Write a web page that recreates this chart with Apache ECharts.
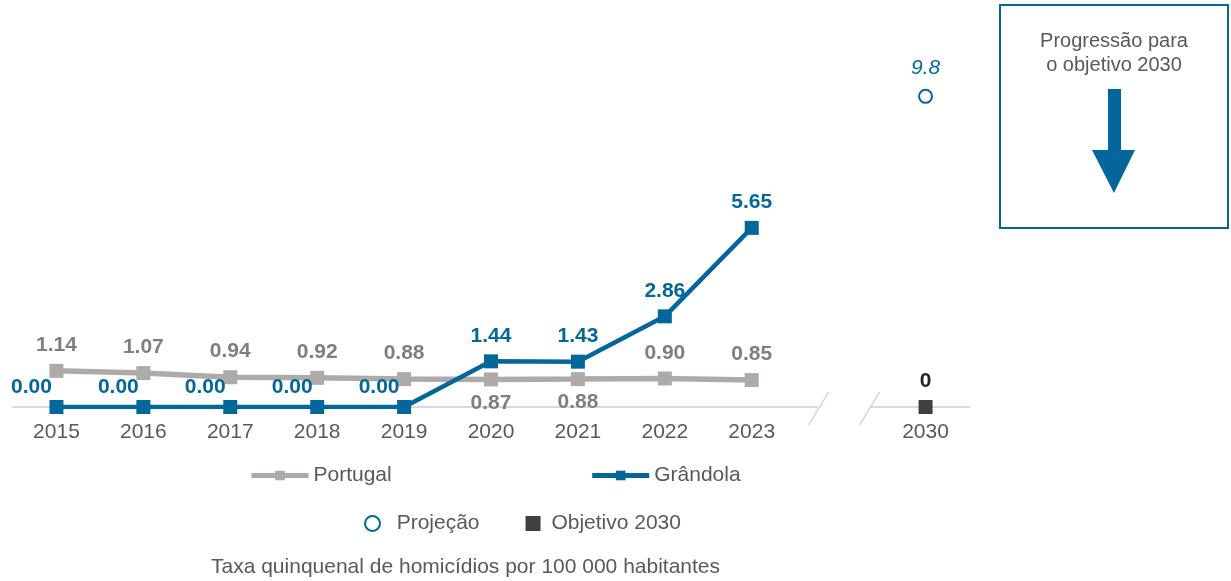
<!DOCTYPE html>
<html>
<head>
<meta charset="utf-8">
<script src="https://cdn.jsdelivr.net/npm/echarts@6/dist/echarts.min.js"></script>
<style>
  html, body { margin: 0; padding: 0; background: #fff; }
  #chart { width: 1231px; height: 581px; }
</style>
</head>
<body>
<div id="chart"></div>
<script>
// dados
var anos = ['2015', '2016', '2017', '2018', '2019', '2020', '2021', '2022', '2023', ' ', '2030'];
var portugal = [1.14, 1.07, 0.94, 0.92, 0.88, 0.87, 0.88, 0.90, 0.85];
var grandola = [0.00, 0.00, 0.00, 0.00, 0.00, 1.44, 1.43, 2.86, 5.65];
var projecao = [['2030', 9.8]];
var objetivo = [['2030', 0]];
var anosRotuloAbaixo = ['2020', '2021']; // rótulos de Portugal por baixo da linha

var azul = '#04679b';
var cinza = '#aeaaaa';
var fonte = '"Liberation Sans", Arial, sans-serif';

var chart = echarts.init(document.getElementById('chart'));

var dadosPortugal = portugal.map(function (v, i) {
    var abaixo = anosRotuloAbaixo.indexOf(anos[i]) >= 0;
    return {
        value: v,
        label: abaixo ? { position: 'bottom', distance: 6 } : undefined
    };
});
var dadosGrandola = grandola.map(function (v) {
    return {
        value: v,
        label: v === 0 ? { offset: [-25, 6] } : undefined
    };
});

var rotulo = {
    show: true,
    position: 'top',
    distance: 8,
    fontWeight: 'bold',
    fontSize: 21,
    fontFamily: fonte
};

var option = {
    animation: false,
    textStyle: { fontFamily: fonte },
    title: {
        text: 'Taxa quinquenal de homicídios por 100 000 habitantes',
        left: 206,
        top: 552,
        textStyle: { fontSize: 21, fontWeight: 'normal', color: '#595959', fontFamily: fonte }
    },
    legend: [
        {
            data: ['Portugal', 'Grândola'],
            left: 249,
            top: 465,
            padding: 0,
            itemWidth: 57,
            itemHeight: 12,
            itemGap: 198,
            lineStyle: { width: 5 },
            textStyle: { fontSize: 21, color: '#595959', fontFamily: fonte }
        },
        {
            data: [
                { name: 'Projeção', icon: 'emptyCircle' },
                { name: 'Objetivo 2030', icon: 'rect' }
            ],
            left: 364,
            top: 513,
            padding: 0,
            itemWidth: 15,
            itemHeight: 15,
            itemGap: 46,
            formatter: function (n) { return n === 'Projeção' ? '  ' + n : ' ' + n; },
            textStyle: { fontSize: 21, color: '#595959', fontFamily: fonte }
        }
    ],
    grid: { left: 13, right: 262, top: 90, bottom: 174 },
    xAxis: {
        type: 'category',
        data: anos,
        boundaryGap: true,
        axisLine: { lineStyle: { color: '#d9d9d9', width: 2 } },
        axisTick: { show: false },
        axisLabel: { fontSize: 21, color: '#595959', margin: 15, fontFamily: fonte, interval: 0 }
    },
    yAxis: {
        type: 'value',
        min: 0,
        max: 10,
        show: false,
        splitLine: { show: false }
    },
    series: [
        {
            name: 'Portugal',
            type: 'line',
            data: dadosPortugal,
            symbol: 'rect',
            symbolSize: 14,
            lineStyle: { color: cinza, width: 5.5 },
            itemStyle: { color: cinza },
            label: Object.assign({}, rotulo, {
                color: '#7f7f7f',
                formatter: function (p) { return p.value.toFixed(2); }
            }),
            z: 2
        },
        {
            name: 'Grândola',
            type: 'line',
            data: dadosGrandola,
            symbol: 'rect',
            symbolSize: 14,
            lineStyle: { color: azul, width: 4.5 },
            itemStyle: { color: azul },
            label: Object.assign({}, rotulo, {
                color: azul,
                formatter: function (p) { return p.value.toFixed(2); }
            }),
            z: 3
        },
        {
            name: 'Projeção',
            type: 'scatter',
            data: projecao,
            symbol: 'emptyCircle',
            symbolSize: 13,
            itemStyle: { color: azul, borderWidth: 2.5, opacity: 1 },
            label: {
                show: true,
                position: 'top',
                distance: 10,
                color: azul,
                fontStyle: 'italic',
                fontSize: 21,
                fontFamily: fonte,
                formatter: function (p) { return String(p.value[1]); }
            }
        },
        {
            name: 'Objetivo 2030',
            type: 'scatter',
            data: objetivo,
            symbol: 'rect',
            symbolSize: 14,
            itemStyle: { color: '#404040', opacity: 1 },
            label: Object.assign({}, rotulo, {
                color: '#262626',
                formatter: function (p) { return String(p.value[1]); }
            }),
            z: 4
        }
    ],
    graphic: [
        {
            type: 'rect',
            shape: { x: 1000, y: 5, width: 228, height: 223 },
            style: { fill: '#fff', stroke: azul, lineWidth: 2 }
        },
        {
            type: 'text',
            x: 1114,
            y: 29,
            style: {
                text: 'Progressão para\no objetivo 2030',
                fill: '#595959',
                font: '20px ' + fonte,
                textAlign: 'center',
                lineHeight: 24
            }
        },
        {
            type: 'polygon',
            shape: {
                points: [[1108, 89], [1121, 89], [1121, 150], [1135, 150], [1114, 193], [1092, 150], [1108, 150]]
            },
            style: { fill: azul }
        }
    ]
};

chart.setOption(option);

// quebra do eixo entre 2023 e 2030
var cx = chart.convertToPixel({ xAxisIndex: 0 }, 9);
var cy = chart.convertToPixel({ yAxisIndex: 0 }, 0);
chart.setOption({
    graphic: [
        { id: 'gap', type: 'rect', z: 10, shape: { x: cx - 21, y: cy - 3, width: 52, height: 6 }, style: { fill: '#fff' } },
        { id: 'q1', type: 'line', z: 11, shape: { x1: cx - 30, y1: cy + 18, x2: cx - 10, y2: cy - 15 }, style: { stroke: '#d9d9d9', lineWidth: 1.5 } },
        { id: 'q2', type: 'line', z: 11, shape: { x1: cx + 21, y1: cy + 18, x2: cx + 41, y2: cy - 15 }, style: { stroke: '#d9d9d9', lineWidth: 1.5 } }
    ]
});
</script>
</body>
</html>
